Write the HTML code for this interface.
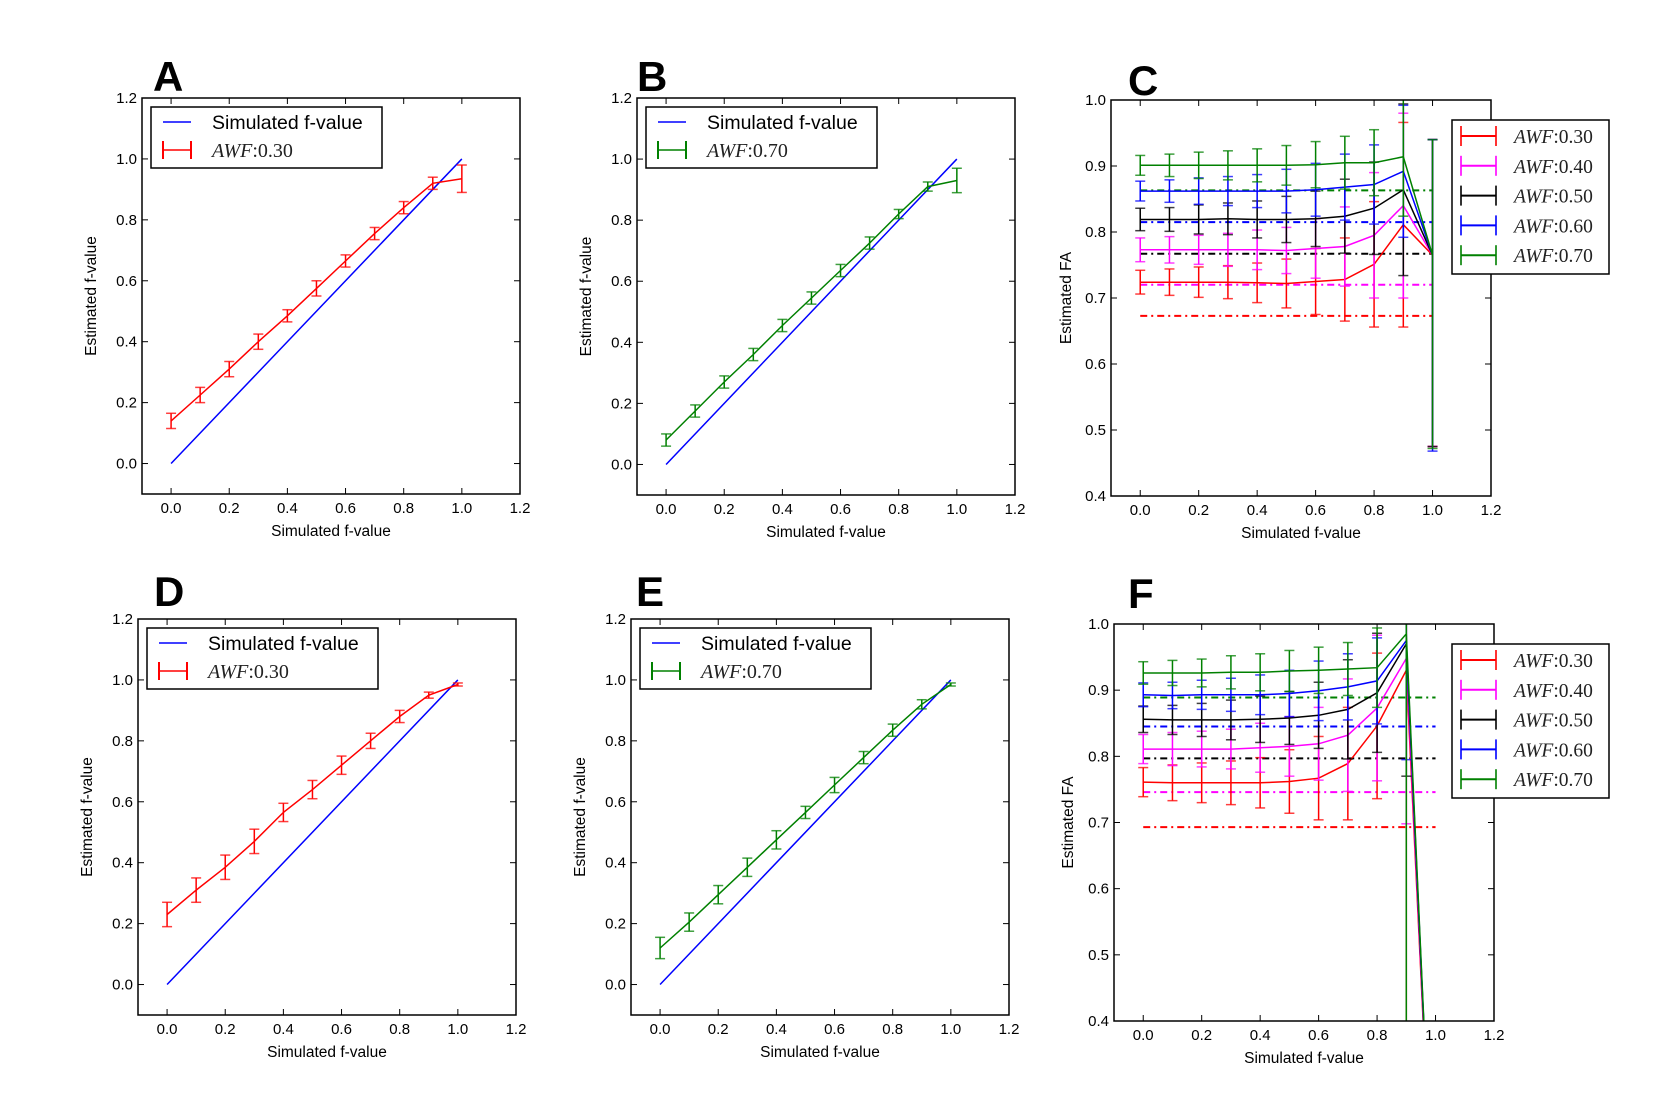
<!DOCTYPE html>
<html><head><meta charset="utf-8"><style>
html,body{margin:0;padding:0;background:#fff;overflow:hidden;width:1662px;height:1101px;}
svg{display:block;}
svg text{font-family:"Liberation Sans","DejaVu Sans",sans-serif;}
svg text.serif{font-family:"Liberation Serif","DejaVu Serif",serif;}
</style></head><body>
<svg id="fig" xmlns="http://www.w3.org/2000/svg" width="1662" height="1101" viewBox="0 0 1662 1101"></svg>
<script>
// ---- data ----
const xs = [0,0.1,0.2,0.3,0.4,0.5,0.6,0.7,0.8,0.9,1.0];
const xTickLabels = ["0.0","0.2","0.4","0.6","0.8","1.0","1.2"];
const fTickLabels = ["0.0","0.2","0.4","0.6","0.8","1.0","1.2"];
const faTickLabels = ["0.4","0.5","0.6","0.7","0.8","0.9","1.0"];
const awfLabels = ["0.30","0.40","0.50","0.60","0.70"];
const awfColors = ["#ff0000","#ff00ff","#000000","#0000ff","#008000"];

const aVals = [0.14,0.225,0.31,0.40,0.485,0.575,0.665,0.755,0.84,0.92,0.935];
const aErr  = [0.025,0.025,0.025,0.025,0.02,0.025,0.02,0.02,0.02,0.02,0.045];
const bVals = [0.08,0.175,0.27,0.36,0.455,0.545,0.635,0.725,0.82,0.91,0.93];
const bErr  = [0.02,0.02,0.02,0.02,0.02,0.02,0.02,0.02,0.015,0.015,0.04];
const dVals = [0.23,0.31,0.385,0.47,0.565,0.64,0.72,0.80,0.88,0.95,0.985];
const dErr  = [0.04,0.04,0.04,0.04,0.03,0.03,0.03,0.025,0.02,0.01,0.005];
const eVals = [0.12,0.205,0.295,0.385,0.475,0.565,0.655,0.745,0.835,0.92,0.985];
const eErr  = [0.035,0.03,0.03,0.03,0.03,0.02,0.025,0.02,0.02,0.015,0.005];

// last point of C uses asymmetric [lower, upper] error
const cRed   = [0.724,0.724,0.724,0.724,0.723,0.722,0.725,0.728,0.751,0.811,0.765];
const cRedE  = [0.018,0.02,0.023,0.025,0.03,0.037,0.05,0.063,0.095,0.155,[0.29,0.175]];
const cMag   = [0.773,0.773,0.773,0.773,0.773,0.772,0.775,0.778,0.795,0.84,0.765];
const cMagE  = [0.018,0.02,0.022,0.025,0.03,0.035,0.045,0.06,0.095,0.14,[0.29,0.175]];
const cBlk   = [0.819,0.819,0.819,0.82,0.819,0.819,0.82,0.824,0.836,0.864,0.765];
const cBlkE  = [0.017,0.018,0.022,0.024,0.028,0.035,0.042,0.056,0.07,0.13,[0.29,0.175]];
const cBlu   = [0.862,0.862,0.862,0.862,0.862,0.862,0.864,0.868,0.872,0.892,0.765];
const cBluE  = [0.015,0.017,0.02,0.022,0.025,0.033,0.04,0.05,0.06,0.1,[0.297,0.175]];
const cGrn   = [0.901,0.901,0.901,0.901,0.901,0.901,0.902,0.905,0.905,0.914,0.765];
const cGrnE  = [0.015,0.017,0.02,0.022,0.025,0.03,0.035,0.04,0.05,0.09,[0.293,0.175]];
const cRef   = [0.673,0.72,0.767,0.815,0.863];

const fRed   = [0.761,0.760,0.760,0.760,0.760,0.762,0.767,0.789,0.846,0.930,0.01];
const fRedE  = [0.022,0.027,0.03,0.033,0.038,0.048,0.063,0.085,0.11,0.6,0];
const fMag   = [0.811,0.811,0.811,0.811,0.813,0.815,0.819,0.832,0.873,0.948,0.01];
const fMagE  = [0.022,0.025,0.027,0.03,0.037,0.045,0.055,0.085,0.11,0.25,0];
const fBlk   = [0.856,0.855,0.855,0.855,0.856,0.858,0.862,0.871,0.896,0.970,0.01];
const fBlkE  = [0.02,0.022,0.025,0.03,0.035,0.04,0.05,0.075,0.09,0.2,0];
const fBlu   = [0.893,0.892,0.893,0.893,0.893,0.895,0.899,0.905,0.914,0.975,0.01];
const fBluE  = [0.018,0.02,0.022,0.025,0.03,0.035,0.045,0.05,0.065,0.18,0];
const fGrn   = [0.926,0.926,0.926,0.927,0.927,0.929,0.930,0.932,0.934,0.985,0.01];
const fGrnE  = [0.017,0.019,0.021,0.025,0.028,0.031,0.035,0.04,0.06,0.6,0];
const fRef   = [0.693,0.746,0.797,0.845,0.889];

// ---- drawing ----
const NS="http://www.w3.org/2000/svg";
const svg=document.getElementById('fig');
function mk(tag,attrs,parent){const e=document.createElementNS(NS,tag);for(const k in attrs)e.setAttribute(k,attrs[k]);(parent||svg).appendChild(e);return e;}
let clipId=0;

function awfText(parent,x,y,lab,size){
  const t=mk('text',{x:x,y:y,'font-size':size,fill:'#222',class:'serif'},parent);
  const a=mk('tspan',{'font-style':'italic'},t);a.textContent='AWF';
  const b=mk('tspan',{},t);b.textContent=':'+lab;
  return t;
}

function panel(cfg){
  const g=mk('g',{});
  
  
  const [L,T,R,B]=cfg.box;
  const X=v=>L+(v-cfg.xmin)/(cfg.xmax-cfg.xmin)*(R-L);
  const Y=v=>B-(v-cfg.ymin)/(cfg.ymax-cfg.ymin)*(B-T);
  const cid='clip'+(clipId++);
  const cp=mk('clipPath',{id:cid},g);mk('rect',{x:L,y:T,width:R-L,height:B-T},cp);
  const lt=mk('text',{x:cfg.letterX,y:cfg.letterY,'font-size':42,'font-weight':'bold',fill:'#000'},g);
  lt.textContent=cfg.id.toUpperCase();
  
  
  cfg.xticks.forEach(lab=>{
    const v=parseFloat(lab),x=X(v);
    mk('line',{x1:x,y1:B,x2:x,y2:B-6,stroke:'#000','stroke-width':1},g);
    mk('line',{x1:x,y1:T,x2:x,y2:T+6,stroke:'#000','stroke-width':1},g);
    const t=mk('text',{x:x,y:B+19,'font-size':15,'text-anchor':'middle',fill:'#000'},g);
    t.textContent=lab;
    
    
  });
  cfg.yticks.forEach(lab=>{
    const v=parseFloat(lab),y=Y(v);
    mk('line',{x1:L,y1:y,x2:L+6,y2:y,stroke:'#000','stroke-width':1},g);
    mk('line',{x1:R,y1:y,x2:R-6,y2:y,stroke:'#000','stroke-width':1},g);
    const t=mk('text',{x:L-5,y:y+5,'font-size':15,'text-anchor':'end',fill:'#000'},g);
    t.textContent=lab;
    
    
  });
  const xl=mk('text',{x:(L+R)/2,y:B+42,'font-size':15.5,'text-anchor':'middle',fill:'#000'},g);
  xl.textContent='Simulated f-value';
  
  
  const yx=cfg.ylabelX, yy=(T+B)/2;
  const yl=mk('text',{x:yx,y:yy,'font-size':15.5,'text-anchor':'middle',fill:'#000',transform:`rotate(-90 ${yx} ${yy})`},g);
  yl.textContent=cfg.ylabel;
  
  
  const pg=mk('g',{'clip-path':`url(#${cid})`},g);
  if(cfg.refs){cfg.refs.forEach((v,i)=>{
    const l=mk('line',{x1:X(0),x2:X(1),y1:Y(v),y2:Y(v),stroke:awfColors[i],'stroke-width':2,'stroke-dasharray':'7,4,2,4'},pg);
    
    
  });}
  if(cfg.identity){
    const l=mk('line',{x1:X(0),y1:Y(0),x2:X(1),y2:Y(1),stroke:'#0000ff','stroke-width':1.5},pg);
    
    
  }
  cfg.series.forEach(s=>{
    const sg=mk('g',{},pg);
    
    
    s.vals.forEach((v,i)=>{
      const e=s.err[i]; if(!e) return;
      const lo=Array.isArray(e)?e[0]:e, hi=Array.isArray(e)?e[1]:e;
      const x=X(xs[i]);
      const eb=mk('line',{x1:x,x2:x,y1:Y(v-lo),y2:Y(v+hi),stroke:s.color,'stroke-width':1.5},sg);
      
      
      [v-lo,v+hi].forEach(c=>mk('line',{x1:x-5,x2:x+5,y1:Y(c),y2:Y(c),stroke:s.color,'stroke-width':1.5,opacity:0.75},sg));
    });
    const pts=s.vals.map((v,i)=>X(xs[i]).toFixed(1)+','+Y(v).toFixed(1)).join(' ');
    const pl=mk('polyline',{points:pts,fill:'none',stroke:s.color,'stroke-width':1.5},sg);
    
    
  });
  mk('rect',{x:L,y:T,width:R-L,height:B-T,fill:'none',stroke:'#000','stroke-width':1.5},g);
  const lg=mk('g',{},g);
  
  
  if(cfg.legendType==='simple'){
    const lx=L+9, ly=T+9;
    mk('rect',{x:lx,y:ly,width:231,height:61,fill:'#fff',stroke:'#000','stroke-width':1.5},lg);
    mk('line',{x1:lx+12,x2:lx+40,y1:ly+15,y2:ly+15,stroke:'#0000ff','stroke-width':1.5},lg);
    const t1=mk('text',{x:lx+61,y:ly+22,'font-size':19.5,fill:'#000'},lg);t1.textContent='Simulated f-value';
    const ey=ly+43;
    mk('line',{x1:lx+12,x2:lx+40,y1:ey,y2:ey,stroke:cfg.series[0].color,'stroke-width':1.5},lg);
    [lx+12,lx+40].forEach(x=>mk('line',{x1:x,x2:x,y1:ey-9,y2:ey+9,stroke:cfg.series[0].color,'stroke-width':2},lg));
    awfText(lg,lx+61,ey+7,cfg.series[0].label,20);
  } else {
    const lx=1452, ly=cfg.legendY;
    mk('rect',{x:lx,y:ly,width:157,height:154,fill:'#fff',stroke:'#000','stroke-width':1.5},lg);
    awfLabels.forEach((lab,i)=>{
      const ey=ly+16+i*29.8, c=awfColors[i];
      const eg=mk('g',{},lg);
      
      
      mk('line',{x1:lx+9,x2:lx+44,y1:ey,y2:ey,stroke:c,'stroke-width':2},eg);
      [lx+9,lx+44].forEach(x=>mk('line',{x1:x,x2:x,y1:ey-10,y2:ey+10,stroke:c,'stroke-width':2,opacity:0.8},eg));
      awfText(eg,lx+62,ey+7,lab,19.5);
    });
  }
}

const mkS=(vals,err,i,name)=>({vals,err,color:awfColors[i],label:awfLabels[i],name});
panel({id:'a',box:[142,98,520,494],xmin:-0.1,xmax:1.2,ymin:-0.1,ymax:1.2,xticks:xTickLabels,yticks:fTickLabels,
  ylabel:'Estimated f-value',ylabelX:96,letterX:153,letterY:91,identity:true,legendType:'simple',
  series:[{vals:aVals,err:aErr,color:'#ff0000',label:'0.30',name:'awf-0.30'}]});
panel({id:'b',box:[637,98,1015,495],xmin:-0.1,xmax:1.2,ymin:-0.1,ymax:1.2,xticks:xTickLabels,yticks:fTickLabels,
  ylabel:'Estimated f-value',ylabelX:591,letterX:637,letterY:91,identity:true,legendType:'simple',
  series:[{vals:bVals,err:bErr,color:'#008000',label:'0.70',name:'awf-0.70'}]});
panel({id:'c',box:[1111,100,1491,496],xmin:-0.1,xmax:1.2,ymin:0.4,ymax:1.0,xticks:xTickLabels,yticks:faTickLabels,
  ylabel:'Estimated FA',ylabelX:1071,letterX:1128,letterY:95,legendType:'multi',legendY:120,refs:cRef,
  series:[mkS(cRed,cRedE,0,'awf-0.30'),mkS(cMag,cMagE,1,'awf-0.40'),mkS(cBlk,cBlkE,2,'awf-0.50'),mkS(cBlu,cBluE,3,'awf-0.60'),mkS(cGrn,cGrnE,4,'awf-0.70')]});
panel({id:'d',box:[138,619,516,1015],xmin:-0.1,xmax:1.2,ymin:-0.1,ymax:1.2,xticks:xTickLabels,yticks:fTickLabels,
  ylabel:'Estimated f-value',ylabelX:92,letterX:154,letterY:606,identity:true,legendType:'simple',
  series:[{vals:dVals,err:dErr,color:'#ff0000',label:'0.30',name:'awf-0.30'}]});
panel({id:'e',box:[631,619,1009,1015],xmin:-0.1,xmax:1.2,ymin:-0.1,ymax:1.2,xticks:xTickLabels,yticks:fTickLabels,
  ylabel:'Estimated f-value',ylabelX:585,letterX:636,letterY:606,identity:true,legendType:'simple',
  series:[{vals:eVals,err:eErr,color:'#008000',label:'0.70',name:'awf-0.70'}]});
panel({id:'f',box:[1114,624,1494,1021],xmin:-0.1,xmax:1.2,ymin:0.4,ymax:1.0,xticks:xTickLabels,yticks:faTickLabels,
  ylabel:'Estimated FA',ylabelX:1073,letterX:1128,letterY:608,legendType:'multi',legendY:644,refs:fRef,
  series:[mkS(fRed,fRedE,0,'awf-0.30'),mkS(fMag,fMagE,1,'awf-0.40'),mkS(fBlk,fBlkE,2,'awf-0.50'),mkS(fBlu,fBluE,3,'awf-0.60'),mkS(fGrn,fGrnE,4,'awf-0.70')]});
</script>
</body></html>
